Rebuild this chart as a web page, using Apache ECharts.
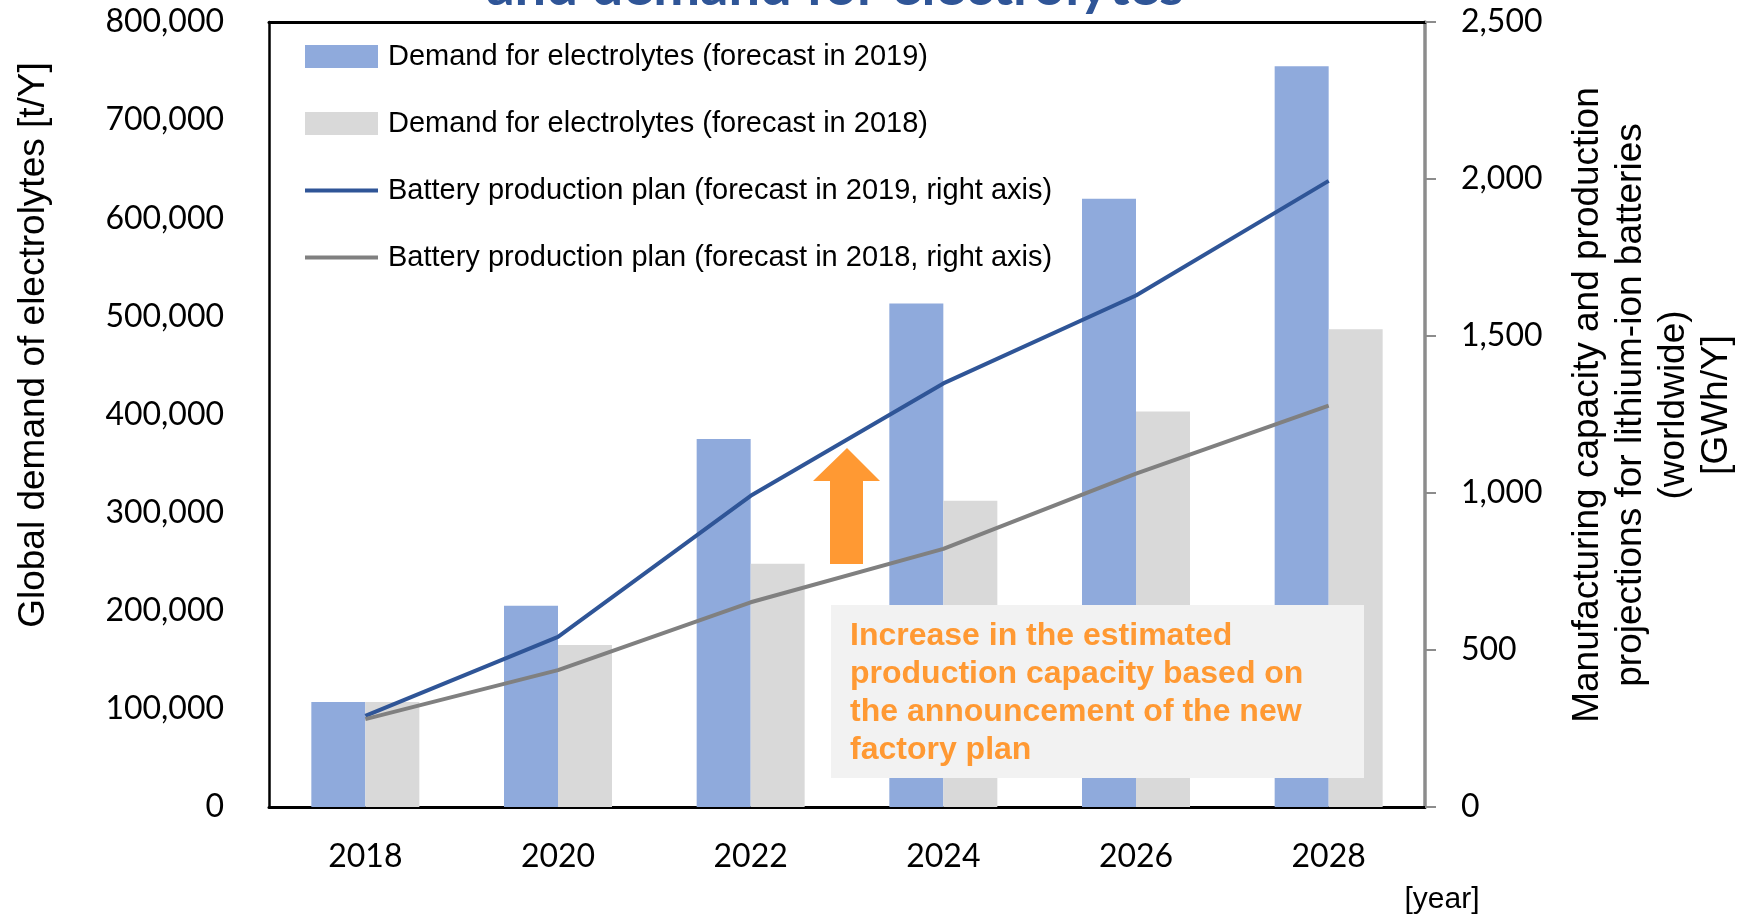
<!DOCTYPE html>
<html>
<head>
<meta charset="utf-8">
<script src="https://cdn.jsdelivr.net/npm/echarts@6/dist/echarts.min.js"></script>
<style>
html,body{margin:0;padding:0;background:#fff;}
#chart{width:1742px;height:917px;}
</style>
</head>
<body>
<div id="chart"></div>
<script>
// ---- data ----
const years = ['2018', '2020', '2022', '2024', '2026', '2028'];
const demand2019 = [107000, 205000, 375000, 513000, 620000, 755000];
const demand2018 = [107000, 165000, 248000, 312000, 403000, 487000];
const battery2019 = [290, 542, 991, 1349, 1629, 1994];
const battery2018 = [280, 436, 652, 822, 1062, 1278];
const leftTicks = [0, 800000, 100000];   // min, max, interval
const rightTicks = [0, 2500, 500];
const seriesNames = [
  'Demand for electrolytes (forecast in 2019)',
  'Demand for electrolytes (forecast in 2018)',
  'Battery production plan (forecast in 2019, right axis)',
  'Battery production plan (forecast in 2018, right axis)'
];
const noteLines = [
  'Increase in the estimated',
  'production capacity based on',
  'the announcement of the new',
  'factory plan'
];

const fmt = v => Number(v).toLocaleString('en-US');
const tickFont = { fontFamily: 'Lato', fontSize: 32, color: '#000' };
const lineIcon = 'path://M0,0H73V4H0Z';

const chart = echarts.init(document.getElementById('chart'), null, { renderer: 'canvas' });
chart.setOption({
  backgroundColor: '#fff',
  animation: false,
  grid: { left: 269, right: 317, top: 22, bottom: 110, containLabel: false },
  legend: {
    orient: 'vertical', left: 300, top: 37,
    itemWidth: 73, itemHeight: 23, itemGap: 38,
    symbolKeepAspect: true,
    textStyle: { fontFamily: 'Liberation Sans', fontSize: 29, color: '#000', padding: [0, 0, 0, 5] },
    data: [
      { name: seriesNames[0], icon: 'rect' },
      { name: seriesNames[1], icon: 'rect' },
      { name: seriesNames[2], icon: lineIcon },
      { name: seriesNames[3], icon: lineIcon }
    ]
  },
  xAxis: [
    {
      type: 'category', data: years, position: 'bottom',
      axisLine: { onZero: false, lineStyle: { color: '#000', width: 3 } },
      axisTick: { show: false },
      axisLabel: Object.assign({ margin: 34 }, tickFont),
      splitLine: { show: false }
    },
    {
      type: 'category', data: years, position: 'top',
      axisLine: { show: true, onZero: false, lineStyle: { color: '#000', width: 3 } },
      axisTick: { show: false }, axisLabel: { show: false }, splitLine: { show: false }
    }
  ],
  yAxis: [
    {
      type: 'value', min: leftTicks[0], max: leftTicks[1], interval: leftTicks[2], position: 'left',
      axisLine: { show: true, onZero: false, lineStyle: { color: '#000', width: 2.5 } },
      axisTick: { show: false }, splitLine: { show: false },
      axisLabel: Object.assign({ margin: 45, formatter: fmt }, tickFont)
    },
    {
      type: 'value', min: rightTicks[0], max: rightTicks[1], interval: rightTicks[2], position: 'right',
      axisLine: { show: true, onZero: false, lineStyle: { color: '#8c8c8c', width: 3.5 } },
      axisTick: { show: true, inside: false, length: 11, lineStyle: { color: '#8c8c8c', width: 2 } },
      splitLine: { show: false },
      axisLabel: Object.assign({ margin: 36, formatter: fmt }, tickFont)
    }
  ],
  series: [
    { name: seriesNames[0], type: 'bar', data: demand2019, yAxisIndex: 0, barWidth: 54, barGap: '0%',
      itemStyle: { color: '#8faadc' }, z: 2 },
    { name: seriesNames[1], type: 'bar', data: demand2018, yAxisIndex: 0, barWidth: 54, barGap: '0%',
      itemStyle: { color: '#d9d9d9' }, z: 2 },
    { name: seriesNames[2], type: 'line', data: battery2019, yAxisIndex: 1, symbol: 'none',
      lineStyle: { color: '#2f5597', width: 4 }, itemStyle: { color: '#2f5597' }, z: 5 },
    { name: seriesNames[3], type: 'line', data: battery2018, yAxisIndex: 1, symbol: 'none',
      lineStyle: { color: '#808080', width: 4 }, itemStyle: { color: '#808080' }, z: 5 }
  ],
  graphic: [
    { type: 'text', x: 835, y: -13, z: 50,
      style: { text: 'and demand for electrolytes', fill: '#2f5597', font: 'bold 56px Lato',
               align: 'center', verticalAlign: 'middle' } },
    { type: 'text', x: 34, y: 345, rotation: Math.PI / 2, z: 50,
      style: { text: 'Global demand of electrolytes [t/Y]', fill: '#000', font: '37px "Liberation Sans"',
               align: 'center', verticalAlign: 'middle' } },
    { type: 'text', x: 1652, y: 405, rotation: Math.PI / 2, z: 50,
      style: { text: 'Manufacturing capacity and production\nprojections for lithium-ion batteries\n(worldwide)\n[GWh/Y]',
               fill: '#000', font: '37px "Liberation Sans"', lineHeight: 43,
               align: 'center', verticalAlign: 'middle' } },
    { type: 'text', x: 1442, y: 900, z: 50,
      style: { text: '[year]', fill: '#000', font: '30px "Liberation Sans"', align: 'center', verticalAlign: 'middle' } },
    { type: 'rect', z: 40, shape: { x: 831, y: 605, width: 533, height: 173 }, style: { fill: '#f2f2f2' } },
    { type: 'text', x: 850, y: 617, z: 41,
      style: { text: noteLines.join('\n'), fill: '#ff9933', font: 'bold 32px "Liberation Sans"', lineHeight: 38,
               align: 'left', verticalAlign: 'top' } },
    { type: 'polygon', z: 41,
      shape: { points: [[847, 448], [880, 481], [863, 481], [863, 564], [830, 564], [830, 481], [813, 481]] },
      style: { fill: '#ff9933' } }
  ]
});
</script>
</body>
</html>
